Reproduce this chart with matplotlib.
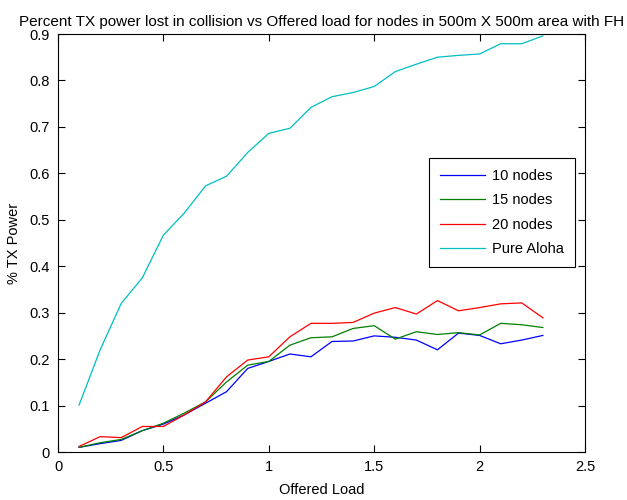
import matplotlib
matplotlib.use("Agg")
import matplotlib.pyplot as plt
import numpy as np

plt.rcParams['font.family'] = ['Liberation Sans', 'DejaVu Sans']

# offered load 0.1 .. 2.3
load = [0.1, 0.2, 0.3, 0.4, 0.5, 0.6, 0.7, 0.8, 0.9, 1.0, 1.1, 1.2,
        1.3, 1.4, 1.5, 1.6, 1.7, 1.8, 1.9, 2.0, 2.1, 2.2, 2.3]

nodes10 = [0.010, 0.018, 0.025, 0.046, 0.060, 0.080, 0.105, 0.130, 0.180, 0.195,
           0.211, 0.205, 0.238, 0.239, 0.250, 0.247, 0.241, 0.220, 0.256, 0.251,
           0.233, 0.241, 0.251]
nodes15 = [0.010, 0.020, 0.027, 0.046, 0.062, 0.084, 0.108, 0.151, 0.187, 0.195,
           0.230, 0.246, 0.248, 0.266, 0.272, 0.243, 0.259, 0.253, 0.257, 0.252,
           0.277, 0.274, 0.268]
nodes20 = [0.012, 0.033, 0.031, 0.055, 0.055, 0.080, 0.108, 0.162, 0.198, 0.205,
           0.248, 0.277, 0.277, 0.279, 0.299, 0.311, 0.297, 0.326, 0.304, 0.311,
           0.319, 0.321, 0.289]
aloha = [0.101, 0.220, 0.320, 0.375, 0.467, 0.515, 0.573, 0.594, 0.645, 0.686,
         0.697, 0.742, 0.765, 0.774, 0.787, 0.819, 0.835, 0.850, 0.854, 0.857,
         0.879, 0.879, 0.896]

labels = ["10 nodes", "15 nodes", "20 nodes", "Pure Aloha"]
colors = ["#0000ff", "#008000", "#ff0000", "#00bfbf"]

fig = plt.figure(figsize=(6.27, 5.0), dpi=100)
ax = fig.add_axes([58 / 627, 48 / 500, 527 / 627, 418 / 500])

for ys, lab, c in zip([nodes10, nodes15, nodes20, aloha], labels, colors):
    ax.plot(load, ys, color=c, lw=0.9, label=lab)

ax.set_xlim(0, 2.5)
ax.set_ylim(0, 0.9)
ax.set_xticks(np.arange(0, 2.51, 0.5))
ax.set_xticklabels(["0", "0.5", "1", "1.5", "2", "2.5"])
ax.set_yticks(np.arange(0, 0.91, 0.1))
ax.set_yticklabels(["0", "0.1", "0.2", "0.3", "0.4", "0.5", "0.6", "0.7", "0.8", "0.9"])
ax.tick_params(direction="in", top=True, right=True, length=5, labelsize=10.5,
               width=0.8, pad=6)
for s in ax.spines.values():
    s.set_linewidth(0.8)

ax.set_title("Percent TX power lost in collision vs Offered load for nodes in 500m X 500m area with FH",
             fontsize=11, pad=6)
ax.set_xlabel("Offered Load", fontsize=10.5, labelpad=6)
ax.set_ylabel("% TX Power", fontsize=10.5, labelpad=6)

leg = ax.legend(loc="upper left", bbox_to_anchor=((429 - 58) / 527, (452 - 158) / 418),
                fontsize=10.5, fancybox=False, framealpha=1, edgecolor="black",
                handlelength=3.1, handletextpad=0.45, borderaxespad=0,
                labelspacing=0.72, borderpad=0.75)
leg.get_frame().set_linewidth(0.8)

fig.savefig("out.png", dpi=100)
